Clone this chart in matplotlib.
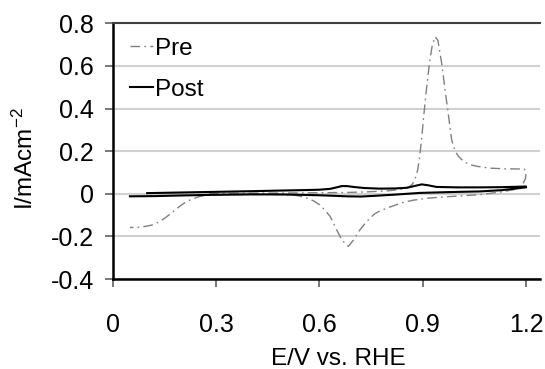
import matplotlib
matplotlib.use("Agg")
import matplotlib.pyplot as plt

plt.rcParams['font.family'] = ['Liberation Sans', 'DejaVu Sans']
plt.rcParams['mathtext.default'] = 'regular'

# Cyclic voltammograms before and after cycling (potential in V vs. RHE, current in mA/cm2)
pre_E = [0.28, 0.35, 0.45, 0.55, 0.62, 0.68, 0.74, 0.80, 0.84, 0.86, 0.87, 0.878,
         0.885, 0.89, 0.897, 0.902, 0.91, 0.92, 0.928, 0.936, 0.944, 0.955, 0.963,
         0.97, 0.977, 0.984, 0.994, 1.004, 1.02, 1.038, 1.06, 1.096, 1.14, 1.195,
         1.2, 1.198, 1.19, 1.18, 1.164, 1.12, 1.067, 1.02, 0.97, 0.92, 0.873, 0.84,
         0.805, 0.776, 0.76, 0.747, 0.732, 0.718, 0.70, 0.684, 0.67, 0.66, 0.65,
         0.64, 0.631, 0.615, 0.601, 0.583, 0.563, 0.54, 0.524, 0.48, 0.4, 0.32,
         0.292, 0.27, 0.254, 0.235, 0.215, 0.195, 0.176, 0.155, 0.137, 0.118,
         0.099, 0.08, 0.06, 0.05]
pre_I = [0.0, 0.002, 0.003, 0.004, 0.005, 0.006, 0.009, 0.014, 0.022, 0.032, 0.045,
         0.07, 0.11, 0.16, 0.26, 0.35, 0.48, 0.62, 0.70, 0.737, 0.72, 0.612, 0.51,
         0.425, 0.34, 0.253, 0.20, 0.175, 0.15, 0.136, 0.128, 0.12, 0.117, 0.116,
         0.10, 0.07, 0.045, 0.03, 0.019, 0.007, -0.004, -0.009, -0.014, -0.02,
         -0.03, -0.042, -0.062, -0.08, -0.095, -0.114, -0.14, -0.169, -0.215,
         -0.247, -0.225, -0.20, -0.169, -0.135, -0.106, -0.075, -0.052, -0.033,
         -0.02, -0.01, -0.006, -0.004, -0.003, -0.004, -0.005, -0.008, -0.012,
         -0.022, -0.036, -0.058, -0.083, -0.11, -0.13, -0.145, -0.152, -0.157,
         -0.158, -0.158]

post_E = [0.1, 0.2, 0.3, 0.4, 0.486, 0.55, 0.6, 0.631, 0.65, 0.665, 0.68, 0.699,
          0.73, 0.776, 0.82, 0.854, 0.875, 0.897, 0.915, 0.94, 1.0, 1.067, 1.13,
          1.2, 1.2, 1.183, 1.13, 1.067, 0.98, 0.892, 0.82, 0.757, 0.72, 0.68, 0.6,
          0.486, 0.4, 0.29, 0.2, 0.12, 0.05]
post_I = [0.003, 0.006, 0.009, 0.012, 0.015, 0.017, 0.019, 0.023, 0.03, 0.036,
          0.036, 0.032, 0.027, 0.024, 0.025, 0.028, 0.036, 0.044, 0.04, 0.032,
          0.03, 0.03, 0.031, 0.034, 0.03, 0.027, 0.017, 0.011, 0.008, 0.004,
          -0.004, -0.01, -0.013, -0.012, -0.007, -0.003, -0.003, -0.005, -0.008,
          -0.011, -0.012]

x_ticks = [0, 0.3, 0.6, 0.9, 1.2]
x_ticklabels = ['0', '0.3', '0.6', '0.9', '1.2']
y_ticks = [-0.4, -0.2, 0, 0.2, 0.4, 0.6, 0.8]
y_ticklabels = ['-0.4', '-0.2', '0', '0.2', '0.4', '0.6', '0.8']

FS = 17.5
TICK_FS = 18

fig = plt.figure(figsize=(5.45, 3.69), dpi=100)
ax = fig.add_axes([0.2068, 0.2439, 0.7842, 0.693])

ax.plot(pre_E, pre_I, color='#808080', lw=1.0,
        linestyle=(0, (7, 3, 1.2, 3)), label='Pre', zorder=3)
ax.plot(post_E, post_I, color='black', lw=1.5, label='Post', zorder=4)

ax.set_xlim(0, 1.2407)
ax.set_ylim(-0.4, 0.8)
ax.set_xticks(x_ticks)
ax.set_xticklabels(x_ticklabels)
ax.set_yticks(y_ticks)
ax.set_yticklabels(y_ticklabels)

ax.yaxis.grid(True, color='#d0d0d0', lw=1.5)
ax.set_axisbelow(True)

for side in ('left', 'bottom'):
    ax.spines[side].set_color('black')
    ax.spines[side].set_linewidth(1.8)
ax.spines['top'].set_color('#404040')
ax.spines['top'].set_linewidth(1.5)
ax.spines['right'].set_visible(False)

ax.tick_params(axis='both', direction='out', length=5.5, width=1.2,
               color='#606060', labelsize=TICK_FS)
ax.tick_params(axis='x', pad=19)
ax.tick_params(axis='y', pad=8)

ax.set_xlabel('E/V vs. RHE', fontsize=FS)
ax.set_ylabel('I/mAcm$^{-2}$', fontsize=FS)
ax.xaxis.set_label_coords(0.528, -0.27)
ax.yaxis.set_label_coords(-0.175, 0.473)

ax.legend(loc='upper left', bbox_to_anchor=(0.0405, 0.944), frameon=False,
          fontsize=FS, handlelength=0.95, handletextpad=0.08,
          labelspacing=0.78, borderpad=0, borderaxespad=0)

fig.savefig('out.png', dpi=100)
